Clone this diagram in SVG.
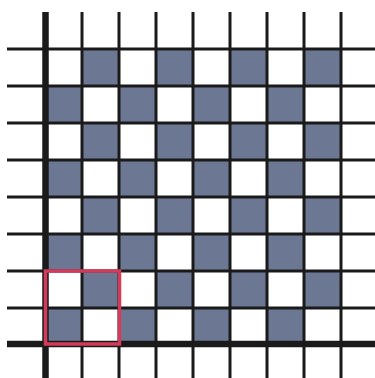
<svg xmlns="http://www.w3.org/2000/svg" width="375" height="378" viewBox="0 0 375 378">
<style>
.g{fill:#6c7893}
.l{stroke:#1a1a1a;stroke-width:3}
.a{stroke:#1a1a1a;stroke-width:6.5}
</style>
<rect width="375" height="378" fill="#fff"/>
<g id="cells">
<rect class="g" x="82" y="49" width="37" height="37"/><rect class="g" x="156" y="49" width="37" height="37"/><rect class="g" x="230" y="49" width="37" height="37"/><rect class="g" x="304" y="49" width="37" height="37"/>
<rect class="g" x="45" y="86" width="37" height="37"/><rect class="g" x="119" y="86" width="37" height="37"/><rect class="g" x="193" y="86" width="37" height="37"/><rect class="g" x="267" y="86" width="37" height="37"/>
<rect class="g" x="82" y="123" width="37" height="37"/><rect class="g" x="156" y="123" width="37" height="37"/><rect class="g" x="230" y="123" width="37" height="37"/><rect class="g" x="304" y="123" width="37" height="37"/>
<rect class="g" x="45" y="160" width="37" height="37"/><rect class="g" x="119" y="160" width="37" height="37"/><rect class="g" x="193" y="160" width="37" height="37"/><rect class="g" x="267" y="160" width="37" height="37"/>
<rect class="g" x="82" y="197" width="37" height="37"/><rect class="g" x="156" y="197" width="37" height="37"/><rect class="g" x="230" y="197" width="37" height="37"/><rect class="g" x="304" y="197" width="37" height="37"/>
<rect class="g" x="45" y="234" width="37" height="37"/><rect class="g" x="119" y="234" width="37" height="37"/><rect class="g" x="193" y="234" width="37" height="37"/><rect class="g" x="267" y="234" width="37" height="37"/>
<rect class="g" x="82" y="271" width="37" height="37"/><rect class="g" x="156" y="271" width="37" height="37"/><rect class="g" x="230" y="271" width="37" height="37"/><rect class="g" x="304" y="271" width="37" height="37"/>
<rect class="g" x="45" y="308" width="37" height="36"/><rect class="g" x="119" y="308" width="37" height="36"/><rect class="g" x="193" y="308" width="37" height="36"/><rect class="g" x="267" y="308" width="37" height="36"/>
</g>
<g id="grid">
<line class="l" x1="7" y1="49" x2="375" y2="49"/>
<line class="l" x1="7" y1="86" x2="375" y2="86"/>
<line class="l" x1="7" y1="123" x2="375" y2="123"/>
<line class="l" x1="7" y1="160" x2="375" y2="160"/>
<line class="l" x1="7" y1="197" x2="375" y2="197"/>
<line class="l" x1="7" y1="234" x2="375" y2="234"/>
<line class="l" x1="7" y1="271" x2="375" y2="271"/>
<line class="l" x1="7" y1="308" x2="375" y2="308"/>
<line class="l" x1="82" y1="12" x2="82" y2="378"/>
<line class="l" x1="119" y1="12" x2="119" y2="378"/>
<line class="l" x1="156" y1="12" x2="156" y2="378"/>
<line class="l" x1="193" y1="12" x2="193" y2="378"/>
<line class="l" x1="230" y1="12" x2="230" y2="378"/>
<line class="l" x1="267" y1="12" x2="267" y2="378"/>
<line class="l" x1="304" y1="12" x2="304" y2="378"/>
<line class="l" x1="341" y1="12" x2="341" y2="378"/>
<line class="a" x1="7" y1="344" x2="375" y2="344"/>
<line class="a" x1="45.5" y1="12" x2="45.5" y2="378"/>
</g>
<g id="highlight">
<rect x="45.5" y="271" width="74" height="73" fill="none" stroke="#d23c5a" stroke-width="3.5"/>
</g>
</svg>
